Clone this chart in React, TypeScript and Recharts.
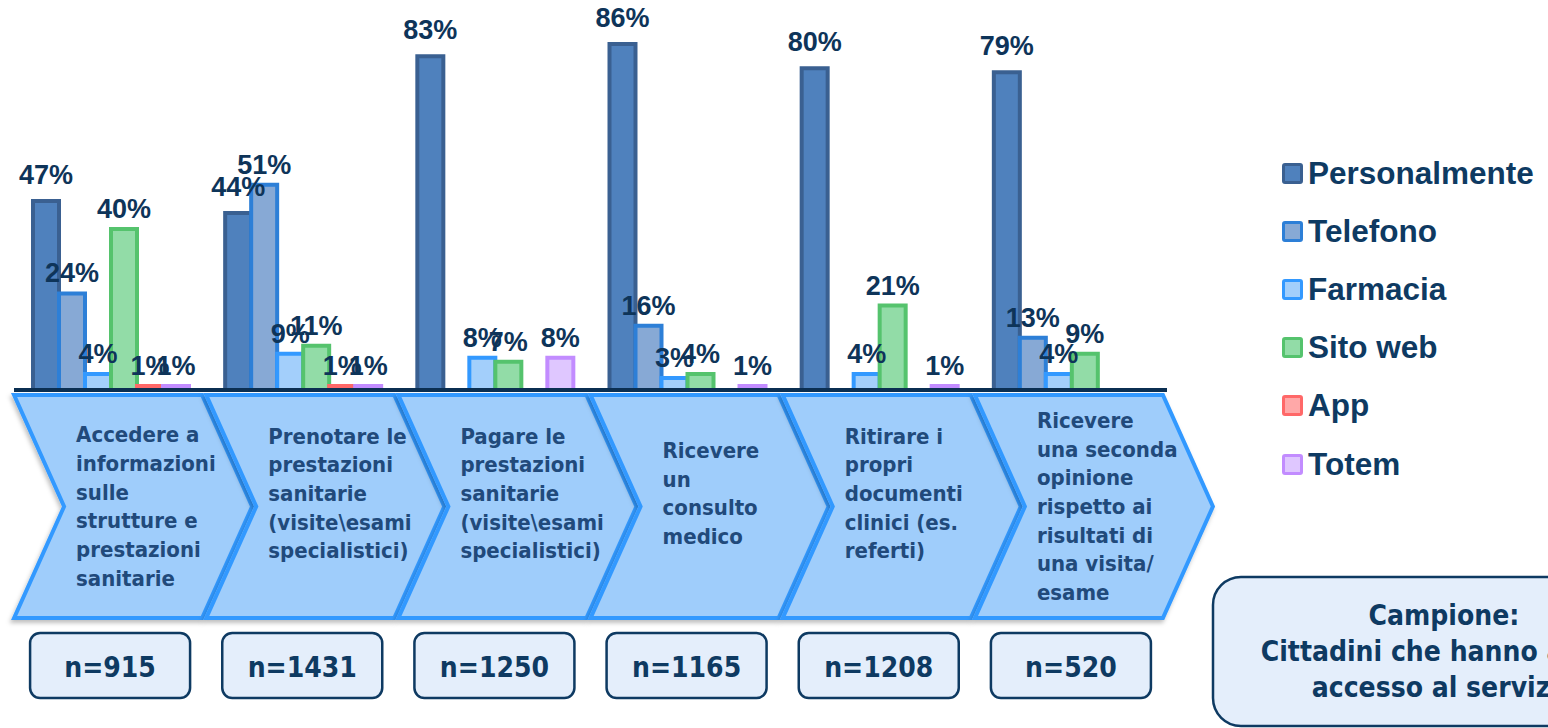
import React from 'react';
import { BarChart, Bar, XAxis, YAxis, Legend, LabelList, Customized } from 'recharts';

// ---------- data ----------
const categories = [
  'Accedere a informazioni sulle strutture e prestazioni sanitarie',
  'Prenotare le prestazioni sanitarie (visite\\esami specialistici)',
  'Pagare le prestazioni sanitarie (visite\\esami specialistici)',
  'Ricevere un consulto medico',
  'Ritirare i propri documenti clinici (es. referti)',
  'Ricevere una seconda opinione rispetto ai risultati di una visita/ esame',
];
const categoryLines = [
  ['Accedere a', 'informazioni', 'sulle', 'strutture e', 'prestazioni', 'sanitarie'],
  ['Prenotare le', 'prestazioni', 'sanitarie', '(visite\\esami', 'specialistici)'],
  ['Pagare le', 'prestazioni', 'sanitarie', '(visite\\esami', 'specialistici)'],
  ['Ricevere', 'un', 'consulto', 'medico'],
  ['Ritirare i', 'propri', 'documenti', 'clinici (es.', 'referti)'],
  ['Ricevere', 'una seconda', 'opinione', 'rispetto ai', 'risultati di', 'una visita/', 'esame'],
];
const sampleSizes = [915, 1431, 1250, 1165, 1208, 520];

const seriesNames = ['Personalmente', 'Telefono', 'Farmacia', 'Sito web', 'App', 'Totem'];
const personalmente = [47, 44, 83, 86, 80, 79];
const telefono = [24, 51, null, 16, null, 13];
const farmacia = [4, 9, 8, 3, 4, 4];
const sitoWeb = [40, 11, 7, 4, 21, 9];
const app = [1, 1, null, null, null, null];
const totem = [1, 1, 8, 1, 1, null];
const seriesValues = [personalmente, telefono, farmacia, sitoWeb, app, totem];

const sampleTitle = 'Campione:';
const sampleLines = ['Cittadini che hanno avuto', 'accesso al servizio'];

// ---------- styles ----------
const W = 1548;
const H = 728;
const MARGIN = { top: 28, right: 381, bottom: 308, left: 14 };
const XAXIS_H = 30;
const SERIES_STYLE = [
  { fill: '#4F81BD', stroke: '#3A6091' },
  { fill: '#87A9D5', stroke: '#2D7FD7' },
  { fill: '#A3CFFB', stroke: '#3399FF' },
  { fill: '#92DCA7', stroke: '#55C36D' },
  { fill: '#FFA8A8', stroke: '#FF6868' },
  { fill: '#DFC7FF', stroke: '#C28CFF' },
];
const NAVY = '#0E3A62';
const LABEL_COLOR = '#0E3459';
const CHEV_TEXT = '#214A7B';
const COND_FONT = "'DejaVu Sans Condensed', 'DejaVu Sans', sans-serif";
const ARIAL = "'Liberation Sans', Arial, sans-serif";

const data = categories.map((name, i) => {
  const row: any = { name };
  seriesNames.forEach((s, k) => {
    row[s] = seriesValues[k][i];
  });
  return row;
});

const LH = 28.7;

const ChevronTick = (props: any) => {
  const { x, payload } = props;
  let i = payload && typeof payload.index === 'number' ? payload.index : categories.indexOf(payload.value);
  if (i < 0) i = 0;
  const c = x;
  const top = 395;
  const bot = 618;
  const mid = 506.5;
  const pts = `${c - 96},${top} ${c + 92},${top} ${c + 142},${mid} ${c + 92},${bot} ${c - 96},${bot} ${c - 46},${mid}`;
  const lines = categoryLines[i];
  const center = lines.length >= 6 ? 507 : 494;
  const first = center + 7 - ((lines.length - 1) * LH) / 2;
  const tx = lines.length === 4 ? c - 24 : c - 34;
  return (
    <g>
      <polygon points={pts} fill="#9FCDFB" stroke="#3399FF" strokeWidth={4} filter="url(#chevShadow)" />
      <text
        x={tx}
        y={first}
        fill={CHEV_TEXT}
        fontFamily={COND_FONT}
        fontWeight="bold"
        fontSize={22}
      >
        {lines.map((l, k) => (
          <tspan key={k} x={tx} y={first + k * LH}>
            {l}
          </tspan>
        ))}
      </text>
      <rect x={c - 80} y={633} width={160} height={65} rx={10} ry={10} fill="#E4EEFB" stroke={NAVY} strokeWidth={2.5} />
      <text x={c} y={677} textAnchor="middle" fill={NAVY} fontFamily={COND_FONT} fontWeight="bold" fontSize={28}>
        {`n=${sampleSizes[i]}`}
      </text>
    </g>
  );
};

const SampleBox = () => (
  <g>
    <defs>
      <filter id="chevShadow" x="-20%" y="-20%" width="140%" height="140%">
        <feDropShadow dx={-1.5} dy={3} stdDeviation={2} floodColor="#000000" floodOpacity={0.25} />
      </filter>
    </defs>
    <rect x={1213} y={577} width={420} height={149} rx={28} ry={28} fill="#E4EEFB" stroke={NAVY} strokeWidth={2.5} />
    <text x={1444} y={625} textAnchor="middle" fill={NAVY} fontFamily={COND_FONT} fontWeight="bold" fontSize={28}>
      {sampleTitle}
    </text>
    {sampleLines.map((l, k) => (
      <text key={k} x={1444} y={661 + k * 36} textAnchor="middle" fill={NAVY} fontFamily={COND_FONT} fontWeight="bold" fontSize={28}>
        {l}
      </text>
    ))}
  </g>
);

const LegendContent = () => (
  <div style={{ position: 'relative', width: 0, height: 0 }}>
    {seriesNames.map((n, i) => (
      <div
        key={n}
        style={{
          position: 'absolute',
          left: 0,
          top: i * 58.2,
          height: 24,
          display: 'flex',
          alignItems: 'center',
          whiteSpace: 'nowrap',
        }}
      >
        <span
          style={{
            display: 'inline-block',
            width: 15,
            height: 15,
            border: `3px solid ${SERIES_STYLE[i].stroke}`,
            background: SERIES_STYLE[i].fill,
            borderRadius: 3,
          }}
        />
        <span
          style={{
            marginLeft: 5,
            fontFamily: ARIAL,
            fontWeight: 'bold',
            fontSize: 31.5,
            color: NAVY,
          }}
        >
          {n}
        </span>
      </div>
    ))}
  </div>
);

const makeLabel = (offset: number) => (p: any) => {
  const { x, y, width, value } = p;
  if (value === null || value === undefined) return null;
  return (
    <text
      x={Number(x) + Number(width) / 2}
      y={Number(y) - offset}
      textAnchor="middle"
      fill={LABEL_COLOR}
      fontFamily={ARIAL}
      fontWeight="bold"
      fontSize={27}
    >
      {`${value}%`}
    </text>
  );
};

export default function App() {
  return (
    <div style={{ position: 'absolute', left: 0, top: 0, width: W, height: H, background: '#ffffff', overflow: 'hidden' }}>
      <BarChart width={W} height={H} data={data} margin={MARGIN} barCategoryGap={19} barGap={0}>
        <Customized component={SampleBox} />
        <YAxis hide domain={[0, 90]} />
        <XAxis
          dataKey="name"
          height={XAXIS_H}
          interval={0}
          tickLine={false}
          tickSize={0}
          tickMargin={0}
          axisLine={{ stroke: '#0B2F52', strokeWidth: 4 }}
          tick={<ChevronTick />}
        />
        <Legend
          content={<LegendContent />}
          layout="vertical"
          align="right"
          verticalAlign="top"
          wrapperStyle={{ left: 1282, top: 161, width: 0, height: 0, right: 'auto' }}
        />
        {seriesNames.map((s, k) => (
          <Bar
            key={s}
            dataKey={s}
            fill={SERIES_STYLE[k].fill}
            stroke={SERIES_STYLE[k].stroke}
            strokeWidth={4}
            isAnimationActive={false}
          >
            <LabelList dataKey={s} content={makeLabel(k === 0 ? 17 : 11)} />
          </Bar>
        ))}
      </BarChart>
    </div>
  );
}
